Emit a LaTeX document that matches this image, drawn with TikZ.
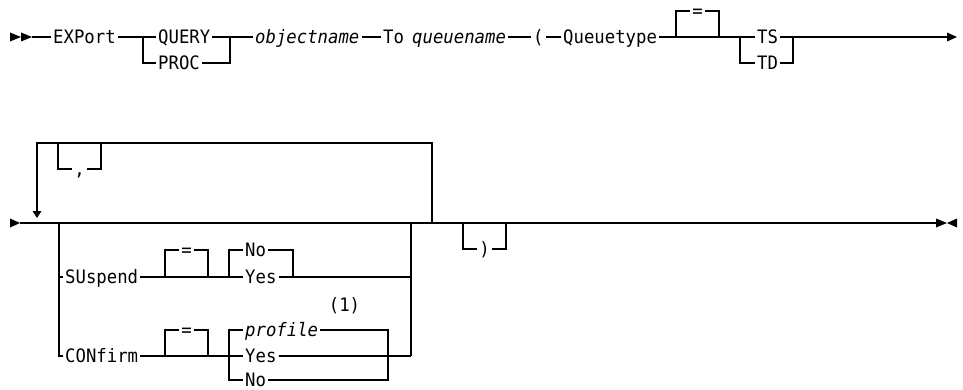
\documentclass[tikz,border=0pt]{standalone}
\usepackage{fontspec}
\newfontfamily\dgfont[FakeStretch=0.935]{DejaVu Sans Mono}
\begin{document}
\begin{tikzpicture}[x=1pt,y=-1pt,
  txt/.style={font=\dgfont\fontsize{18.5}{21}\selectfont, inner xsep=2pt, inner ysep=0pt, text height=13.4pt, text depth=0pt, anchor=west},
  itx/.style={txt, font=\dgfont\itshape\fontsize{18.5}{21}\selectfont},
  ctx/.style={txt, anchor=center},
  ln/.style={line width=1.2pt}]
\useasboundingbox (0,0) rectangle (963,390);

% ---------- row 1 ----------
\fill (10,32.5) -- (21,37) -- (10,41.5) -- cycle;
\fill (21,32.5) -- (32,37) -- (21,41.5) -- cycle;
\coordinate (s1) at (32,37);
\node[txt] (exp) at (51,37) {EXPort};
\coordinate (b1l) at (143,37); \coordinate (b1lb) at (143,63);
\node[txt] (query) at (156,37) {QUERY};
\node[txt] (proc) at (156,63) {PROC};
\coordinate (b1r) at (230,37); \coordinate (b1rb) at (230,63);
\node[itx] (obj) at (253,37) {objectname};
\node[txt] (to) at (381,37) {To};
\node[itx] (queue) at (410,37) {queuename};
\node[txt] (lp) at (531,37) {(};
\node[txt] (qt) at (561,37) {Queuetype};
\coordinate (e1a) at (676,37); \coordinate (e1b) at (719,37);
\node[ctx] (eq1) at (697.5,11) {=};
\coordinate (b2l) at (740,37); \coordinate (b2lb) at (740,63);
\node[txt] (ts) at (755,37) {TS};
\node[txt] (td) at (755,63) {TD};
\coordinate (b2r) at (793,37); \coordinate (b2rb) at (793,63);
\coordinate (end1) at (947,37);

\draw[ln] (s1) -- (exp.west);
\draw[ln] (exp.east) -- (query.west);
\draw[ln] (query.east) -- (obj.west);
\draw[ln] (b1l) -- (b1lb) -- (proc.west);
\draw[ln] (proc.east) -- (b1rb) -- (b1r);
\draw[ln] (obj.east) -- (to.west);
\draw[ln] (queue.east) -- (lp.west);
\draw[ln] (lp.east) -- (qt.west);
\draw[ln] (qt.east) -- (ts.west);
\draw[ln] (e1a) |- (eq1.west);
\draw[ln] (eq1.east) -| (e1b);
\draw[ln] (b2l) -- (b2lb) -- (td.west);
\draw[ln] (td.east) -- (b2rb) -- (b2r);
\draw[ln] (ts.east) -- (end1);
\fill (947,32.5) -- (957,37) -- (947,41.5) -- cycle;

% ---------- row 2 ----------
\fill (10,218.5) -- (20,223) -- (10,227.5) -- cycle;
\coordinate (s2) at (20,223);
\coordinate (end2) at (936,223);
\draw[ln] (s2) -- (end2);
\fill (936,218.5) -- (947,223) -- (936,227.5) -- cycle;
\fill (957,218.5) -- (947,223) -- (957,227.5) -- cycle;

% repeat loop
\coordinate (rl) at (37,143); \coordinate (rr) at (432,143);
\coordinate (rrb) at (432,223); \coordinate (rdown) at (37,212);
\draw[ln] (rrb) -- (rr) -- (rl) -- (rdown);
\fill (32.5,211) -- (41.5,211) -- (37,218) -- cycle;
\coordinate (cl) at (58,143); \coordinate (cr) at (101,143);
\node[ctx] (comma) at (79.5,169) {,};
\draw[ln] (cl) |- (comma.west);
\draw[ln] (comma.east) -| (cr);

% optional group
\coordinate (gl) at (59,223); \coordinate (gls) at (59,277);
\coordinate (gr) at (411,223); \coordinate (grs) at (411,277); \coordinate (grc) at (411,356);
\node[txt] (sus) at (63,277) {SUspend};
\node[txt] (conf) at (63,356) {CONfirm};
\draw[ln] (gl) |- (conf.west);
\draw[ln] (gls) -- (sus.west);
\draw[ln] (gr) -- (grc);

% SUspend
\coordinate (e2a) at (165,277); \coordinate (e2b) at (208,277);
\node[ctx] (eq2) at (186.5,250) {=};
\coordinate (b3l) at (229,277); \coordinate (b3r) at (293,277);
\node[txt] (no1) at (243,250) {No};
\node[txt] (yes1) at (243,277) {Yes};
\draw[ln] (sus.east) -- (yes1.west);
\draw[ln] (e2a) |- (eq2.west);
\draw[ln] (eq2.east) -| (e2b);
\draw[ln] (b3l) |- (no1.west);
\draw[ln] (no1.east) -| (b3r);
\draw[ln] (yes1.east) -- (grs);

% CONfirm
\coordinate (e3a) at (165,356); \coordinate (e3b) at (208,356);
\node[ctx] (eq3) at (186.5,330) {=};
\node[itx] (prof) at (243,330) {profile};
\node[txt] (yes2) at (243,356) {Yes};
\node[txt] (no2) at (243,380) {No};
\coordinate (b4t) at (229,330); \coordinate (b4b) at (229,380);
\coordinate (b4rt) at (388,330); \coordinate (b4rb) at (388,380);
\draw[ln] (conf.east) -- (yes2.west);
\draw[ln] (e3a) |- (eq3.west);
\draw[ln] (eq3.east) -| (e3b);
\draw[ln] (prof.west) -- (b4t) -- (b4b) -- (no2.west);
\draw[ln] (prof.east) -- (b4rt) -- (b4rb) -- (no2.east);
\draw[ln] (yes2.east) -- (grc);
\node[ctx] (note) at (344.5,305) {(1)};

% closing paren
\coordinate (pl) at (463,223); \coordinate (pr) at (506,223);
\node[ctx] (rp) at (484.5,249) {)};
\draw[ln] (pl) |- (rp.west);
\draw[ln] (rp.east) -| (pr);
\end{tikzpicture}
\end{document}
